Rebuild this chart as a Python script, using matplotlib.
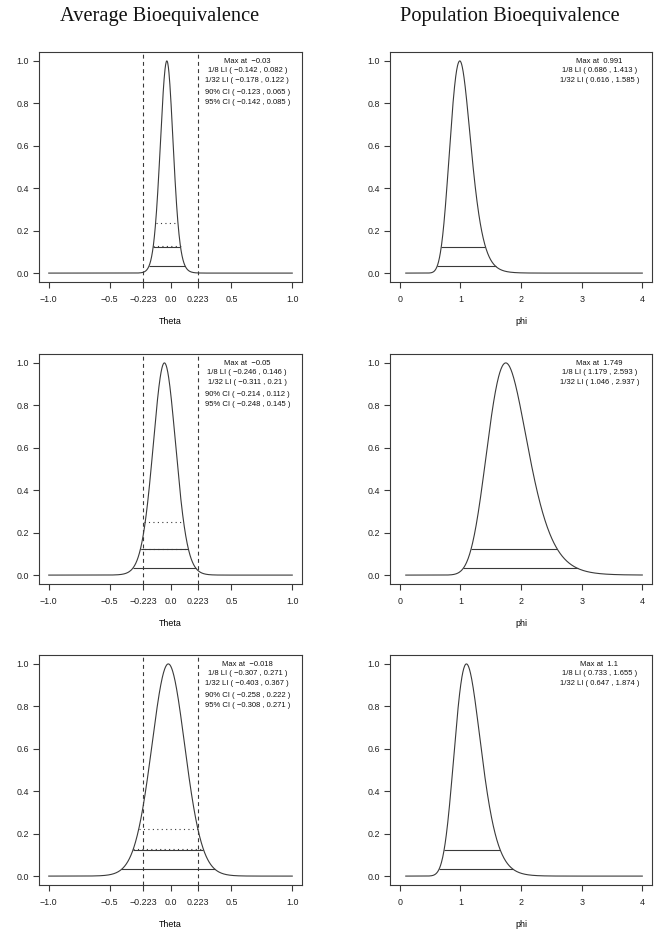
import numpy as np
import matplotlib
matplotlib.use("Agg")
import matplotlib.pyplot as plt

# ---------------- data ----------------
be_limit = 0.223

theta_max = [-0.03, -0.05, -0.018]
theta_li8 = [(-0.142, 0.082), (-0.246, 0.146), (-0.307, 0.271)]
theta_li32 = [(-0.178, 0.122), (-0.311, 0.21), (-0.403, 0.367)]
theta_ci90 = [(-0.123, 0.065), (-0.214, 0.112), (-0.258, 0.222)]
theta_ci95 = [(-0.142, 0.085), (-0.248, 0.145), (-0.308, 0.271)]
ci90_height = [0.235, 0.25, 0.222]
ci95_height = [0.128, 0.125, 0.13]

phi_max = [0.991, 1.749, 1.1]
phi_li8 = [(0.686, 1.413), (1.179, 2.593), (0.733, 1.655)]
phi_li32 = [(0.616, 1.585), (1.046, 2.937), (0.647, 1.874)]

theta_ticks = [-1.0, -0.5, -be_limit, 0.0, be_limit, 0.5, 1.0]
theta_ticklabels = ["\u22121.0", "\u22120.5", "\u22120.223", "0.0", "0.223", "0.5", "1.0"]
phi_ticks = [0, 1, 2, 3, 4]
y_ticks = [0.0, 0.2, 0.4, 0.6, 0.8, 1.0]

titles = ["Average Bioequivalence", "Population Bioequivalence"]


# ---------------- likelihood shape calibrated on the LI bounds ----------------
def side_shape(h8, h32):
    r2 = (h32 / h8) ** 2
    target = np.log(32) / np.log(8)
    if r2 <= target + 1e-6:
        s = h8 / np.sqrt(2 * np.log(8))
        return lambda d: np.exp(-0.5 * (d / s) ** 2)
    lo, hi = 1e-8, 50.0
    for _ in range(200):
        mid = 0.5 * (lo + hi)
        f = np.log(1 + r2 * mid) / np.log(1 + mid)
        if f > target:
            lo = mid
        else:
            hi = mid
    u = 0.5 * (lo + hi)
    m = np.log(8) / np.log(1 + u)
    a = h8 ** 2 / u
    return lambda d: (1 + d ** 2 / a) ** (-m)


def likelihood(x, mx, li8, li32, tr=lambda v: v):
    t = tr(x)
    tm = tr(mx)
    left = side_shape(tm - tr(li8[0]), tm - tr(li32[0]))
    right = side_shape(tr(li8[1]) - tm, tr(li32[1]) - tm)
    d = t - tm
    return np.where(d < 0, left(np.abs(d)), right(np.abs(d)))


def fmt(v):
    return f"{v:g}".replace("-", "\u2212")


# ---------------- figure ----------------
W, H = 663, 930
fig = plt.figure(figsize=(W / 100, H / 100), dpi=100)
plt.rcParams["font.family"] = ["Liberation Sans", "DejaVu Sans"]

line_c = "#3a3a3a"
lw = 0.8
tick_fs = 6.4
ann_fs = 5.5

col_left = [39, 390]
col_width = [263, 262]
row_top = [52, 354, 655]
ax_h = 230

text_dy = [0.995, 0.953, 0.910, 0.853, 0.804]


def style_axes(ax):
    for sp in ax.spines.values():
        sp.set_color(line_c)
        sp.set_linewidth(lw)
    ax.tick_params(direction="out", length=4.5, width=lw, color=line_c,
                   labelsize=tick_fs, labelcolor="#222222")
    ax.tick_params(axis="x", pad=4.5)
    ax.tick_params(axis="y", pad=2.5)
    ax.set_ylim(-0.042, 1.042)
    ax.set_yticks(y_ticks)
    ax.set_yticklabels([f"{v:.1f}" for v in y_ticks])


for i in range(3):
    # ---- Theta panel ----
    ax = fig.add_axes([col_left[0] / W, 1 - (row_top[i] + ax_h) / H,
                       col_width[0] / W, ax_h / H])
    style_axes(ax)
    x = np.linspace(-1, 1, 801)
    y = likelihood(x, theta_max[i], theta_li8[i], theta_li32[i])
    ax.plot(x, y, color=line_c, lw=lw)
    ax.hlines(0.125, *theta_li8[i], color=line_c, lw=lw)
    ax.hlines(1 / 32, *theta_li32[i], color=line_c, lw=lw)
    ax.hlines(ci90_height[i], *theta_ci90[i], color=line_c, lw=lw,
              linestyles=(0, (1, 3)))
    ax.hlines(ci95_height[i], *theta_ci95[i], color=line_c, lw=lw,
              linestyles=(0, (1, 3)))
    ax.axvline(-be_limit, color=line_c, lw=lw, ls=(0, (3.5, 3)))
    ax.axvline(be_limit, color=line_c, lw=lw, ls=(0, (3.5, 3)))
    ax.set_xlim(-1.08, 1.08)
    ax.set_xticks(theta_ticks)
    ax.set_xticklabels(theta_ticklabels)
    ax.set_xlabel("Theta", fontsize=tick_fs, labelpad=9.8)
    lines = [
        f"Max at  {fmt(theta_max[i])}",
        f"1/8 LI ( {fmt(theta_li8[i][0])} , {fmt(theta_li8[i][1])} )",
        f"1/32 LI ( {fmt(theta_li32[i][0])} , {fmt(theta_li32[i][1])} )",
        f"90% CI ( {fmt(theta_ci90[i][0])} , {fmt(theta_ci90[i][1])} )",
        f"95% CI ( {fmt(theta_ci95[i][0])} , {fmt(theta_ci95[i][1])} )",
    ]
    for t, yy in zip(lines, text_dy):
        ax.text(0.63, yy, t, ha="center", va="center", fontsize=ann_fs,
                color="#111111")

    # ---- phi panel ----
    ax = fig.add_axes([col_left[1] / W, 1 - (row_top[i] + ax_h) / H,
                       col_width[1] / W, ax_h / H])
    style_axes(ax)
    x = np.linspace(0.1, 4, 801)
    y = likelihood(x, phi_max[i], phi_li8[i], phi_li32[i], tr=np.log)
    ax.plot(x, y, color=line_c, lw=lw)
    ax.hlines(0.125, *phi_li8[i], color=line_c, lw=lw)
    ax.hlines(1 / 32, *phi_li32[i], color=line_c, lw=lw)
    ax.set_xlim(-0.16, 4.16)
    ax.set_xticks(phi_ticks)
    ax.set_xticklabels([str(v) for v in phi_ticks])
    ax.set_xlabel("phi", fontsize=tick_fs, labelpad=9.8)
    lines = [
        f"Max at  {fmt(phi_max[i])}",
        f"1/8 LI ( {fmt(phi_li8[i][0])} , {fmt(phi_li8[i][1])} )",
        f"1/32 LI ( {fmt(phi_li32[i][0])} , {fmt(phi_li32[i][1])} )",
    ]
    for t, yy in zip(lines, text_dy[:3]):
        ax.text(3.29, yy, t, ha="center", va="center", fontsize=ann_fs,
                color="#111111")

fig.text(160 / W, 1 - 17 / H, titles[0], ha="center", va="center",
         fontsize=14.7, family="Liberation Serif", color="#111111")
fig.text(510 / W, 1 - 17 / H, titles[1], ha="center", va="center",
         fontsize=14.7, family="Liberation Serif", color="#111111")

fig.savefig("out.png", dpi=100)
